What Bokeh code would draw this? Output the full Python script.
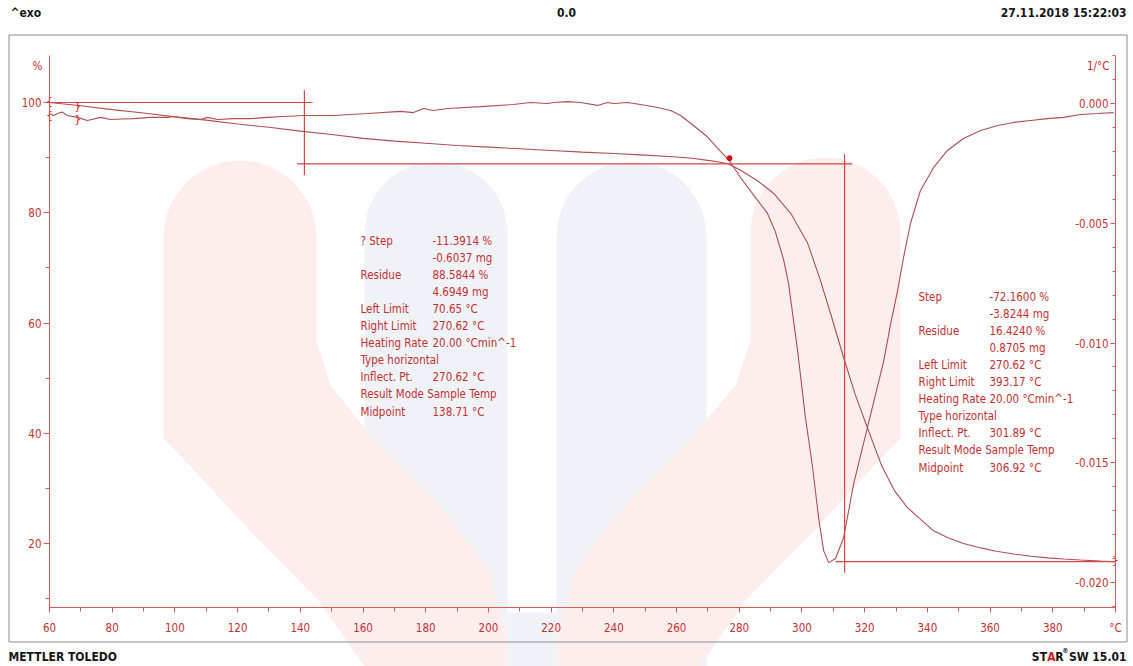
import numpy as np
from bokeh.plotting import figure
from bokeh.models import Range1d, LinearAxis, FixedTicker, PrintfTickFormatter
from bokeh.core.properties import value
from bokeh.embed import file_html
from bokeh.resources import INLINE

# ---------------- data ----------------
tga_temp = [60, 70, 80, 90, 100, 110, 120, 130, 140, 150, 160, 170, 180, 190, 200,
            210, 220, 230, 240, 250, 260, 265, 270, 273.5, 276.5, 280.4, 285.8, 291.0,
            296.4, 301.8, 305.9, 309.5, 313.3, 317.0, 321.2, 325.5, 329.5, 333.5, 338.0,
            342.0, 346.4, 351.5, 357.0, 362.0, 367.5, 373.0, 378.3, 383.5, 388.9, 395.2, 400.0]
tga_pct = [100.0, 99.4, 98.7, 98.1, 97.4, 96.8, 96.1, 95.5, 94.8, 94.2, 93.5, 93.0, 92.6, 92.2, 91.9,
           91.6, 91.3, 91.0, 90.75, 90.45, 90.1, 89.9, 89.5, 89.2, 88.9, 87.7, 85.8, 83.5,
           79.9, 74.5, 67.7, 61.0, 53.7, 47.0, 40.5, 34.0, 29.6, 26.6, 24.3,
           22.3, 21.1, 20.0, 19.2, 18.6, 18.1, 17.7, 17.4, 17.2, 17.0, 16.8, 16.7]

dtg_temp = [60, 61.3, 63, 64.1, 65.7, 68.9, 72.1, 76.3, 79.5, 83, 86.8, 92.2, 97.6, 99.6,
            104.0, 108.2, 110.4, 113.6, 118.7, 124.1, 129.5, 134.6, 141.3, 150.6, 161.4,
            172.0, 176.1, 179.3, 182.5, 187.0, 197.5, 208.0, 213.4, 218.9, 220.8, 225.2,
            229.4, 234.8, 238.0, 239.9, 244.4, 248.5, 253.9, 258.1, 261.3, 265.4, 269.9,
            274.0, 276.9, 280.4, 285.0, 289.0, 291.5, 294.1, 295.7, 298.6, 301.1, 303.4, 305.3,
            306.9, 308.5, 310.7, 313.3, 316.5, 321.2, 326.0, 328.3, 330.5, 332.4, 334.6,
            337.8, 342.0, 346.4, 351.5, 357.0, 362.4, 367.5, 372.9, 378.3, 383.4, 388.9,
            394.3, 399.4]
dtg_val = [-0.00042, -0.00050, -0.00040, -0.00036, -0.00050, -0.00058, -0.00071, -0.00058,
           -0.00067, -0.00065, -0.00063, -0.00058, -0.00058, -0.00054,
           -0.00063, -0.00067, -0.00058, -0.00067, -0.00063, -0.00063, -0.00058, -0.00054,
           -0.00050, -0.00050, -0.00042,
           -0.00033, -0.00038, -0.00021, -0.00029, -0.00021, -0.00013, -0.00004, 0.00004,
           0.00000, 0.00004, 0.00008,
           0.00004, -0.00008, 0.00004, 0.00000, 0.00004, -0.00004, -0.00017, -0.00029,
           -0.00050, -0.00092, -0.00140,
           -0.00200, -0.00240, -0.00309, -0.00390, -0.00459, -0.00535, -0.00650, -0.00750, -0.01031,
           -0.01311, -0.01520, -0.01729,
           -0.01867, -0.01917, -0.01900, -0.01812, -0.01587, -0.01336, -0.01080, -0.00919,
           -0.00781, -0.00643, -0.00501,
           -0.00363, -0.00267, -0.00196, -0.00146, -0.00113, -0.00092, -0.00079, -0.00071,
           -0.00063, -0.00058, -0.00046,
           -0.00042, -0.00038]

# evaluation construction lines (temperature in °C, mass in %)
eval_h_x = [[60, 143.9], [139.0, 316.0], [310.7, 400.0]]
eval_h_y = [[100.0, 100.0], [88.85, 88.85], [16.7, 16.7]]
eval_v_x = [[141.3, 141.3], [313.6, 313.6]]
eval_v_y = [[102.2, 86.8], [90.6, 14.7]]
dot_temp = [276.9]
dot_pct = [89.9]

# evaluation limit brackets
brace_temp = [60, 60, 69, 69, 400]
brace_pct = [100.2, 97.6, 99.3, 97.0, 16.9]
brace_text = ["{", "{", "}", "}", "}"]

# axes
x_ticks = [60, 80, 100, 120, 140, 160, 180, 200, 220, 240, 260, 280, 300, 320, 340, 360, 380, 400]
x_minor = [60, 70, 80, 90, 100, 110, 120, 130, 140, 150, 160, 170, 180, 190, 200, 210, 220, 230,
           240, 250, 260, 270, 280, 290, 300, 310, 320, 330, 340, 350, 360, 370, 380, 390, 400]
left_ticks = [20, 40, 60, 80, 100]
left_minor = [10, 20, 30, 40, 50, 60, 70, 80, 90, 100]
right_ticks = [-0.020, -0.015, -0.010, -0.005, 0.000]
right_minor = [-0.021, -0.020, -0.019, -0.018, -0.017, -0.016, -0.015, -0.014, -0.013, -0.012,
               -0.011, -0.010, -0.009, -0.008, -0.007, -0.006, -0.005, -0.004, -0.003, -0.002,
               -0.001, 0.000, 0.001, 0.002]

# result tables (None = empty cell)
step1_labels = ["? Step", None, "Residue", None, "Left Limit", "Right Limit", "Heating Rate",
                "Type horizontal", "Inflect. Pt.", "Result Mode Sample Temp", "Midpoint"]
step1_values = ["-11.3914 %", "-0.6037 mg", "88.5844 %", "4.6949 mg", "70.65 °C", "270.62 °C",
                "20.00 °Cmin^-1", None, "270.62 °C", None, "138.71 °C"]
step2_labels = ["Step", None, "Residue", None, "Left Limit", "Right Limit", "Heating Rate",
                "Type horizontal", "Inflect. Pt.", "Result Mode  Sample Temp", "Midpoint"]
step2_values = ["-72.1600 %", "-3.8244 mg", "16.4240 %", "0.8705 mg", "270.62 °C", "393.17 °C",
                "20.00 °Cmin^-1", None, "301.89 °C", None, "306.92 °C"]

# ---------------- styling ----------------
W, H = 1133, 666
FONT = "DejaVu Sans Condensed, Liberation Sans"
RED_TXT = "#c63030"
AXIS_RED = "#d85a5a"
CURVE = "#b04f4f"
EVAL = "#d84545"
PINK = "#fdeeee"
BLUE = "#eff3f8"

# pixel geometry of the plot area: 60 °C at x=49, 400 °C at x=1115,
# 100 % at y=102 (5.5125 px per %), 0.000 1/°C at y=103 (23950 px per unit)
PX_PER_C = (1115 - 49) / 340.0
PX_PER_PCT = 5.5125
PX_PER_D = 23950.0
x0 = 60 - 49 / PX_PER_C
x1 = 400 + (W - 1115) / PX_PER_C
y0 = 100 - (H - 102) / PX_PER_PCT
y1 = 100 + 102 / PX_PER_PCT
d0 = -(H - 103) / PX_PER_D
d1 = 103 / PX_PER_D
axis_bottom_pct = 100 - (607 - 102) / PX_PER_PCT
axis_top_pct = 100 + (102 - 55) / PX_PER_PCT
axis_bottom_d = -(607 - 103) / PX_PER_D
axis_top_d = (103 - 55) / PX_PER_D

p = figure(width=W, height=H, x_range=Range1d(x0, x1), y_range=Range1d(y0, y1),
           output_backend="svg", toolbar_location=None, min_border=0,
           x_axis_location=None, y_axis_location=None)
p.extra_y_ranges = {"dtg": Range1d(d0, d1), "py": Range1d(H, 0)}
p.extra_x_ranges = {"px": Range1d(0, W)}
p.grid.visible = False
p.outline_line_color = None
p.background_fill_color = "white"
p.border_fill_color = "white"

PG = dict(x_range_name="px", y_range_name="py")

# ---- faint logo watermark (page pixel geometry) ----
def arch(xa, xb, top, pts):
    r = (xb - xa) / 2.0
    cx, cy = (xa + xb) / 2.0, top + r
    t = np.linspace(np.pi, 0, 24)
    return list(cx + r * np.cos(t)) + [q[0] for q in pts], list(cy - r * np.sin(t)) + [q[1] for q in pts]

bx1, by1 = arch(364, 507, 161, [(507, 666), (364, 666)])
bx2, by2 = arch(556, 706, 161, [(706, 666), (556, 666)])
pxl, pyl = arch(163, 316, 160, [(316, 340), (330, 385), (369, 433), (436, 500), (487, 567),
                                (507, 633), (507, 666), (364, 666), (318, 600), (252, 533),
                                (191, 467), (163, 438)])
pxr, pyr = arch(750, 900, 157, [(900, 438), (872, 467), (811, 533), (745, 600), (699, 666),
                                (556, 666), (556, 633), (576, 567), (627, 500), (694, 433),
                                (735, 385), (750, 340)])
p.patches([bx1, bx2], [by1, by2], fill_color=BLUE, line_color=None, **PG)
p.patches([pxl, pxr], [pyl, pyr], fill_color=PINK, line_color=None, **PG)
p.quad(left=[507], right=[556], top=[612], bottom=[666], fill_color=BLUE, line_color=None, **PG)

# ---- page frame, header, footer ----
p.quad(left=[8.5], right=[1126.5], top=[34.5], bottom=[641.5], fill_color=None,
       line_color="#8a8a8a", line_width=1, **PG)
hdr = dict(text_font=value(FONT), text_font_style="bold", text_font_size="12px",
           text_color="#161616", text_baseline="middle", **PG)
p.text(x=[10], y=[12], text=["^exo"], text_align="left", **hdr)
p.text(x=[566], y=[12], text=["0.0"], text_align="center", **hdr)
p.text(x=[1126], y=[12], text=["27.11.2018 15:22:03"], text_align="right", **hdr)
p.text(x=[8], y=[656], text=["METTLER TOLEDO"], text_align="left", **hdr)
p.text(x=[1126], y=[656], text=["SW 15.01"], text_align="right", **hdr)
p.text(x=[1063, 1046.5], y=[656, 656], text=["R", "ST"], text_align="right", **hdr)
p.text(x=[1055], y=[656], text=["A"], text_align="right", **{**hdr, "text_color": "#d42020"})
p.text(x=[1068], y=[650], text=["®"], text_align="right", **{**hdr, "text_font_size": "7px"})

# ---- axes (library axes fixed at the plot-area edges) ----
def style(ax):
    ax.axis_line_color = AXIS_RED
    ax.major_tick_line_color = AXIS_RED
    ax.minor_tick_line_color = AXIS_RED
    ax.major_tick_in = 0
    ax.minor_tick_in = 0
    ax.major_label_text_color = RED_TXT
    ax.major_label_text_font = FONT
    ax.major_label_text_font_size = "11.5px"

xa = LinearAxis(fixed_location=axis_bottom_pct, bounds=(60, 400),
                ticker=FixedTicker(ticks=x_ticks, minor_ticks=x_minor))
style(xa)
xa.major_tick_out = 5
xa.minor_tick_out = 4
xa.major_label_standoff = 8
xa.major_label_overrides = {400: "°C"}
p.add_layout(xa, "below")

ya = LinearAxis(fixed_location=60, bounds=(axis_bottom_pct, axis_top_pct),
                ticker=FixedTicker(ticks=left_ticks, minor_ticks=left_minor))
style(ya)
ya.major_tick_out = 6
ya.minor_tick_out = 4
ya.major_label_standoff = 2
p.add_layout(ya, "left")

ra = LinearAxis(y_range_name="dtg", fixed_location=400, bounds=(axis_bottom_d, axis_top_d),
                ticker=FixedTicker(ticks=right_ticks, minor_ticks=right_minor),
                formatter=PrintfTickFormatter(format="%.3f"))
style(ra)
ra.major_tick_out = 5
ra.minor_tick_out = 3
ra.major_label_standoff = 2
p.add_layout(ra, "left")

unit = dict(text_font=value(FONT), text_font_size="11.5px", text_color=RED_TXT,
            text_baseline="middle", **PG)
p.text(x=[37], y=[65], text=["%"], text_align="center", **unit)
p.text(x=[1109], y=[65], text=["1/°C"], text_align="right", **unit)

# ---- curves ----
p.line(tga_temp, tga_pct, line_color=CURVE, line_width=1.1)
p.line(dtg_temp, dtg_val, y_range_name="dtg", line_color=CURVE, line_width=1.1)

# ---- evaluation lines ----
p.multi_line(eval_h_x, eval_h_y, line_color=EVAL, line_width=1.2)
p.multi_line(eval_v_x, eval_v_y, line_color=EVAL, line_width=1.2)
p.scatter(dot_temp, dot_pct, size=5, color="#d01010")
p.text(x=brace_temp, y=brace_pct, text=brace_text, text_align="center", text_baseline="middle",
       text_color="#d02020", text_font=value("DejaVu Sans"), text_font_size="11px")

# ---- result tables ----
def table(lines, x, ytop):
    xs, ys, ts = [], [], []
    for i, t in enumerate(lines):
        if t:
            xs.append(x)
            ys.append(ytop + i * 17.1)
            ts.append(t)
    p.text(x=xs, y=ys, text=ts, text_align="left", text_baseline="middle",
           text_color=RED_TXT, text_font=value(FONT), text_font_size="11.5px", **PG)

table(step1_labels, 360, 240)
table(step1_values, 432, 240)
table(step2_labels, 918, 296)
table(step2_values, 989, 296)

open("out.html", "w").write(file_html(p, INLINE))
